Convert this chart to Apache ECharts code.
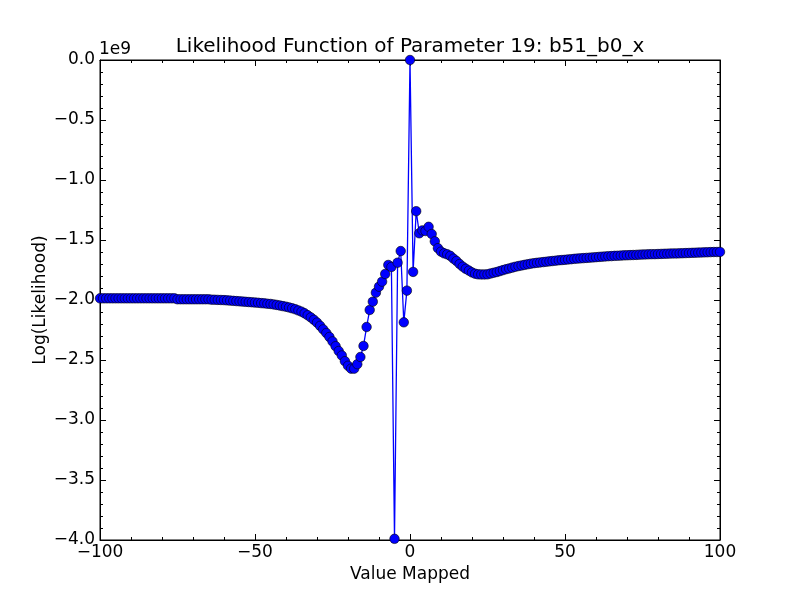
<!DOCTYPE html>
<html>
<head>
<meta charset="utf-8">
<script src="https://cdn.jsdelivr.net/npm/echarts@6/dist/echarts.min.js"></script>
<style>html,body{margin:0;padding:0;background:#fff}#c{width:800px;height:600px}</style>
</head>
<body>
<div id="c"></div>
<script>
// Data (y values in units of 1e9)
const SCALE = 1e9;
const titleText = 'Likelihood Function of Parameter 19: b51_b0_x';
const xName = 'Value Mapped';
const yName = 'Log(Likelihood)';
const xTicks = [-100, -50, 0, 50, 100];
const yTicks = [0.0, -0.5, -1.0, -1.5, -2.0, -2.5, -3.0, -3.5, -4.0];
const xValues = [
-100,-99,-98,-97,-96,-95,-94,-93,-92,-91,-90,-89,-88,-87,-86,-85,-84,-83,-82,-81,
-80,-79,-78,-77,-76,-75,-74,-73,-72,-71,-70,-69,-68,-67,-66,-65,-64,-63,-62,-61,
-60,-59,-58,-57,-56,-55,-54,-53,-52,-51,-50,-49,-48,-47,-46,-45,-44,-43,-42,-41,
-40,-39,-38,-37,-36,-35,-34,-33,-32,-31,-30,-29,-28,-27,-26,-25,-24,-23,-22,-21,
-20,-19,-18,-17,-16,-15,-14,-13,-12,-11,-10,-9,-8,-7,-6,-5,-4,-3,-2,-1,
0,
1,2,3,4,5,6,7,8,9,10,11,12,13,14,15,16,17,18,19,20,
21,22,23,24,25,26,27,28,29,30,31,32,33,34,35,36,37,38,39,40,
41,42,43,44,45,46,47,48,49,50,51,52,53,54,55,56,57,58,59,60,
61,62,63,64,65,66,67,68,69,70,71,72,73,74,75,76,77,78,79,80,
81,82,83,84,85,86,87,88,89,90,91,92,93,94,95,96,97,98,99,100
];
const yValues = [
-1.986,-1.986,-1.986,-1.986,-1.986,-1.986,-1.986,-1.986,-1.986,-1.986,-1.986,-1.986,-1.986,-1.986,-1.986,-1.986,-1.986,-1.986,-1.986,-1.986,
-1.986,-1.986,-1.986,-1.986,-1.986,-1.994,-1.994,-1.994,-1.994,-1.994,-1.994,-1.994,-1.994,-1.994,-1.994,-1.994,-1.997,-1.998,-1.999,-2.000,
-2.001,-2.003,-2.005,-2.007,-2.009,-2.011,-2.013,-2.015,-2.017,-2.019,-2.021,-2.023,-2.026,-2.028,-2.031,-2.033,-2.037,-2.041,-2.046,-2.051,
-2.056,-2.062,-2.069,-2.077,-2.087,-2.097,-2.111,-2.127,-2.145,-2.165,-2.188,-2.215,-2.245,-2.275,-2.308,-2.345,-2.385,-2.425,-2.462,-2.510,
-2.548,-2.572,-2.572,-2.535,-2.475,-2.383,-2.225,-2.083,-2.014,-1.939,-1.889,-1.847,-1.783,-1.708,-1.725,-3.990,-1.689,-1.592,-2.186,-1.922,
0.000,
-1.766,-1.260,-1.444,-1.420,-1.425,-1.390,-1.450,-1.511,-1.568,-1.597,-1.611,-1.619,-1.632,-1.655,-1.675,-1.700,-1.722,-1.740,-1.755,-1.770,
-1.781,-1.786,-1.787,-1.787,-1.786,-1.779,-1.773,-1.767,-1.759,-1.751,-1.743,-1.737,-1.730,-1.723,-1.717,-1.712,-1.707,-1.702,-1.697,-1.693,
-1.690,-1.687,-1.684,-1.681,-1.678,-1.675,-1.672,-1.669,-1.667,-1.665,-1.662,-1.660,-1.657,-1.655,-1.653,-1.651,-1.649,-1.647,-1.645,-1.643,
-1.641,-1.639,-1.637,-1.635,-1.634,-1.632,-1.631,-1.630,-1.628,-1.627,-1.626,-1.625,-1.624,-1.622,-1.621,-1.620,-1.619,-1.618,-1.618,-1.617,
-1.616,-1.615,-1.614,-1.613,-1.612,-1.612,-1.611,-1.610,-1.609,-1.608,-1.607,-1.606,-1.605,-1.604,-1.603,-1.602,-1.601,-1.600,-1.600,-1.599
];

const FONT = 'DejaVu Sans';
const FS = 17;
const minus = s => String(s).replace('-', '\u2212');
const seriesData = xValues.map((x, i) => [x, yValues[i] * SCALE]);

const chart = echarts.init(document.getElementById('c'), null, {renderer: 'canvas'});
const tickStyle = {lineStyle: {color: '#000', width: 1}};
function xAxisDef(pos, showLabels) {
  return {
    type: 'value', position: pos, min: xTicks[0], max: xTicks[xTicks.length - 1], interval: 50,
    axisLine: {show: true, onZero: false, lineStyle: {color: '#000', width: 1}},
    axisTick: {show: true, inside: true, length: 6, ...tickStyle},
    minorTick: {show: true, splitNumber: 5, length: 3, ...tickStyle},
    splitLine: {show: false}, minorSplitLine: {show: false},
    axisLabel: {show: showLabels, color: '#000', fontFamily: FONT, fontSize: FS, margin: 4,
      formatter: v => minus(v)},
    name: showLabels ? xName : '', nameLocation: 'middle', nameGap: 26, nameMoveOverlap: false,
    nameTextStyle: {color: '#000', fontFamily: FONT, fontSize: FS}
  };
}
function yAxisDef(pos, showLabels) {
  return {
    type: 'value', position: pos, min: yTicks[yTicks.length - 1] * SCALE, max: yTicks[0] * SCALE, interval: 0.5 * SCALE,
    axisLine: {show: true, onZero: false, lineStyle: {color: '#000', width: 1}},
    axisTick: {show: true, inside: true, length: 6, ...tickStyle},
    minorTick: {show: true, splitNumber: 5, length: 3, ...tickStyle},
    splitLine: {show: false}, minorSplitLine: {show: false},
    axisLabel: {show: showLabels, color: '#000', fontFamily: FONT, fontSize: FS, margin: 5,
      formatter: v => minus((v / SCALE).toFixed(1))},
    name: showLabels ? yName : '', nameLocation: 'middle', nameGap: 51, nameRotate: 90, nameMoveOverlap: false,
    nameTextStyle: {color: '#000', fontFamily: FONT, fontSize: FS}
  };
}
chart.setOption({
  animation: false,
  backgroundColor: '#fff',
  grid: {left: 100, right: 80, top: 60, bottom: 60, show: true, borderColor: '#000', borderWidth: 1, backgroundColor: '#fff'},
  xAxis: [xAxisDef('bottom', true), xAxisDef('top', false)],
  yAxis: [yAxisDef('left', true), yAxisDef('right', false)],
  graphic: [
    {type: 'text', x: 410, y: 47, style: {text: titleText, fontFamily: FONT, fontSize: 20, fill: '#000', align: 'center', verticalAlign: 'middle'}},
    {type: 'text', x: 99, y: 50, style: {text: '1e9', fontFamily: FONT, fontSize: FS, fill: '#000', align: 'left', verticalAlign: 'middle'}}
  ],
  series: [{
    type: 'line', xAxisIndex: 0, yAxisIndex: 0, data: seriesData, clip: true,
    symbol: 'circle', symbolSize: 9.5,
    lineStyle: {color: '#0000ff', width: 1.3},
    itemStyle: {color: '#0000ff', borderColor: '#000', borderWidth: 0.6},
    emphasis: {disabled: true}
  }]
});
</script>
</body>
</html>
